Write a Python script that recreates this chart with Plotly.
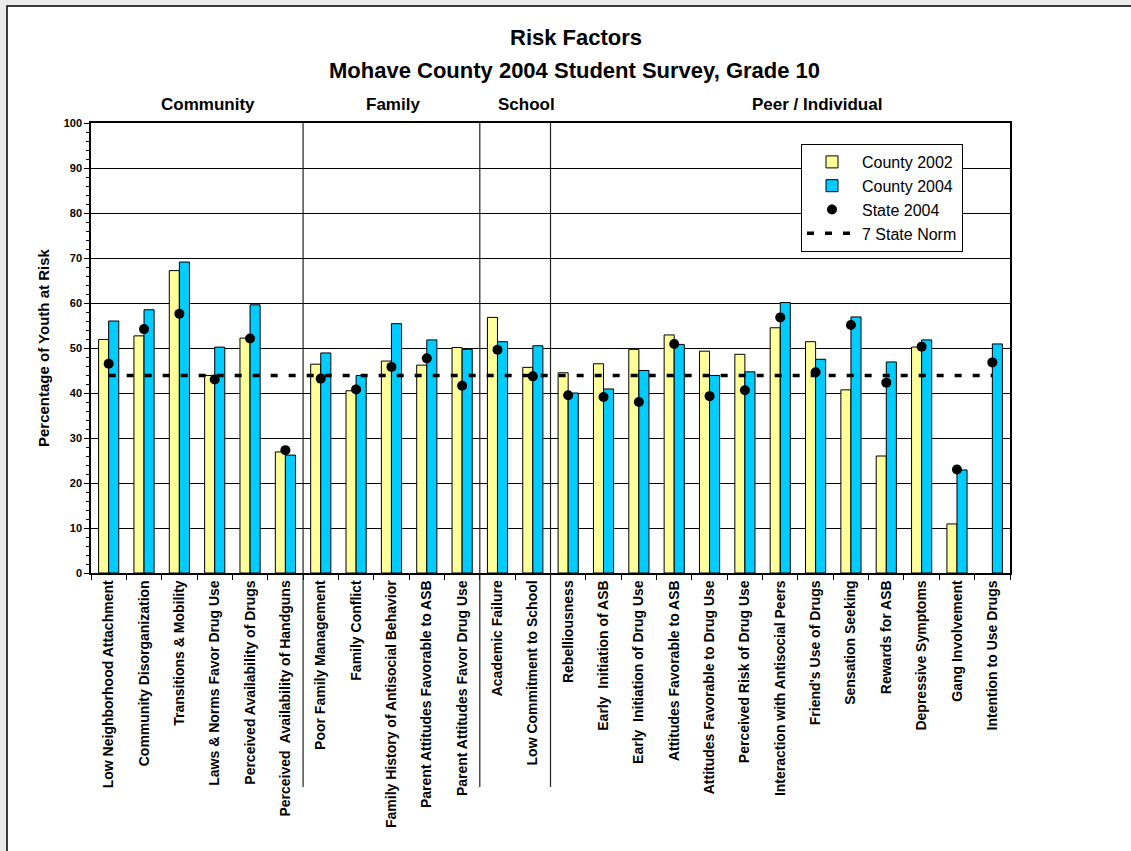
import plotly.graph_objects as go

categories = [
    "Low Neighborhood Attachment",
    "Community Disorganization",
    "Transitions & Mobility",
    "Laws & Norms Favor Drug Use",
    "Perceived Availability of Drugs",
    "Perceived  Availability of Handguns",
    "Poor Family Management",
    "Family Conflict",
    "Family History of Antisocial Behavior",
    "Parent Attitudes Favorable to ASB",
    "Parent Attitudes Favor Drug Use",
    "Academic Failure",
    "Low Commitment to School",
    "Rebelliousness",
    "Early  Initiation of ASB",
    "Early  Initiation of Drug Use",
    "Attitudes Favorable to ASB",
    "Attitudes Favorable to Drug Use",
    "Perceived Risk of Drug Use",
    "Interaction with Antisocial Peers",
    "Friend's Use of Drugs",
    "Sensation Seeking",
    "Rewards for ASB",
    "Depressive Symptoms",
    "Gang Involvement",
    "Intention to Use Drugs",
]

county_2002 = [51.9, 52.7, 67.2, 43.9, 52.2, 26.9, 46.4, 40.5, 47.1, 46.2, 50.1,
               56.8, 45.7, 44.5, 46.5, 49.7, 52.9, 49.3, 48.6, 54.5, 51.4, 40.7,
               26.0, 50.2, 10.9, None]
county_2004 = [56.0, 58.5, 69.1, 50.2, 59.6, 26.2, 48.9, 43.9, 55.4, 51.8, 49.7,
               51.4, 50.5, 40.0, 40.9, 45.0, 50.8, 43.9, 44.7, 60.1, 47.5, 56.9,
               46.9, 51.8, 22.9, 50.9]
state_2004 = [46.5, 54.2, 57.6, 43.0, 52.1, 27.3, 43.2, 40.8, 45.8, 47.7, 41.6,
              49.6, 43.7, 39.5, 39.1, 38.0, 50.9, 39.3, 40.6, 56.8, 44.6, 55.1,
              42.3, 50.3, 23.0, 46.8]
state_norm = 43.9

groups = ["Community", "Family", "School", "Peer / Individual"]
group_label_px = [208, 392.5, 526, 817]
group_boundaries = [6, 11, 13]

FONT = "Arial, 'Liberation Sans', sans-serif"
W, H = 1131, 851
ML, MR, MT, MB = 91, 121, 123, 278
PW = W - ML - MR
PH = H - MT - MB


def px_x(px):
    return (px - ML) / PW


def px_y(py):
    return (H - MB - py) / PH


fig = go.Figure()
fig.add_trace(go.Bar(
    x=categories, y=county_2002, name="County 2002",
    marker=dict(color="#FFFF99", line=dict(color="black", width=1)),
))
fig.add_trace(go.Bar(
    x=categories, y=county_2004, name="County 2004",
    marker=dict(color="#00CCFF", line=dict(color="black", width=1)),
))
fig.add_trace(go.Scatter(
    x=categories, y=state_2004, name="State 2004", mode="markers",
    marker=dict(color="black", size=10, symbol="circle"),
))
fig.add_trace(go.Scatter(
    x=categories, y=[state_norm] * len(categories), name="7 State Norm",
    mode="lines", line=dict(color="black", width=3.5, dash="7px,11px"),
))

shapes = [
    dict(type="rect", xref="paper", yref="paper", layer="below",
         x0=px_x(7), x1=px_x(W + 20), y0=px_y(H + 20), y1=px_y(6),
         fillcolor="white", line=dict(color="black", width=1.5)),
]
n = len(categories)
for b in group_boundaries:
    shapes.append(dict(type="line", xref="paper", yref="paper",
                       x0=b / n, x1=b / n, y0=px_y(787), y1=1,
                       line=dict(color="#222222", width=1.2)))

annotations = [
    dict(text="<b>Risk Factors</b>", x=px_x(576), y=px_y(37), xref="paper", yref="paper",
         showarrow=False, xanchor="center", yanchor="middle",
         font=dict(family=FONT, size=22, color="black")),
    dict(text="<b>Mohave County 2004 Student Survey, Grade 10</b>", x=px_x(574), y=px_y(70),
         xref="paper", yref="paper", showarrow=False, xanchor="center", yanchor="middle",
         font=dict(family=FONT, size=22, color="black")),
    dict(text="<b>Percentage of Youth at Risk</b>", x=px_x(43), y=0.5, xref="paper", yref="paper",
         showarrow=False, textangle=-90, xanchor="center", yanchor="middle",
         font=dict(family=FONT, size=15, color="black")),
]
for g, gx in zip(groups, group_label_px):
    annotations.append(dict(text=f"<b>{g}</b>", x=px_x(gx), y=px_y(105), xref="paper", yref="paper",
                            showarrow=False, xanchor="center", yanchor="middle",
                            font=dict(family=FONT, size=17, color="black")))

fig.update_layout(
    width=W, height=H,
    margin=dict(l=ML, r=MR, t=MT, b=MB, autoexpand=False),
    paper_bgcolor="#ebebeb",
    plot_bgcolor="white",
    barmode="group", bargap=0.43, bargroupgap=0,
    font=dict(family=FONT, color="black"),
    showlegend=True,
    legend=dict(x=px_x(801), y=px_y(144), xanchor="left", yanchor="top",
                bgcolor="white", bordercolor="black", borderwidth=1,
                font=dict(family=FONT, size=16, color="black"),
                tracegroupgap=2, itemwidth=50),
    shapes=shapes,
    annotations=annotations,
)
fig.update_xaxes(
    type="category", tickangle=-90, showline=True, linecolor="black", linewidth=1.5,
    mirror=True, ticks="outside", tickson="boundaries", ticklen=5, tickcolor="black",
    tickfont=dict(family=FONT, size=14, color="black", weight="bold"),
    showgrid=False, range=[-0.5, n - 0.5],
)
fig.update_yaxes(
    range=[0, 100], dtick=10, showline=True, linecolor="black", linewidth=1.5, mirror=True,
    ticks="outside", ticklen=5, tickcolor="black",
    tickfont=dict(family=FONT, size=11, color="black", weight="bold"),
    showgrid=True, gridcolor="black", gridwidth=1, zeroline=False,
    minor=dict(dtick=2, ticks="outside", ticklen=3, tickcolor="black", showgrid=False),
)

fig.write_html("out.html", config={"displayModeBar": False},
               post_script="document.body.style.margin='0px';document.body.style.overflow='hidden';")
